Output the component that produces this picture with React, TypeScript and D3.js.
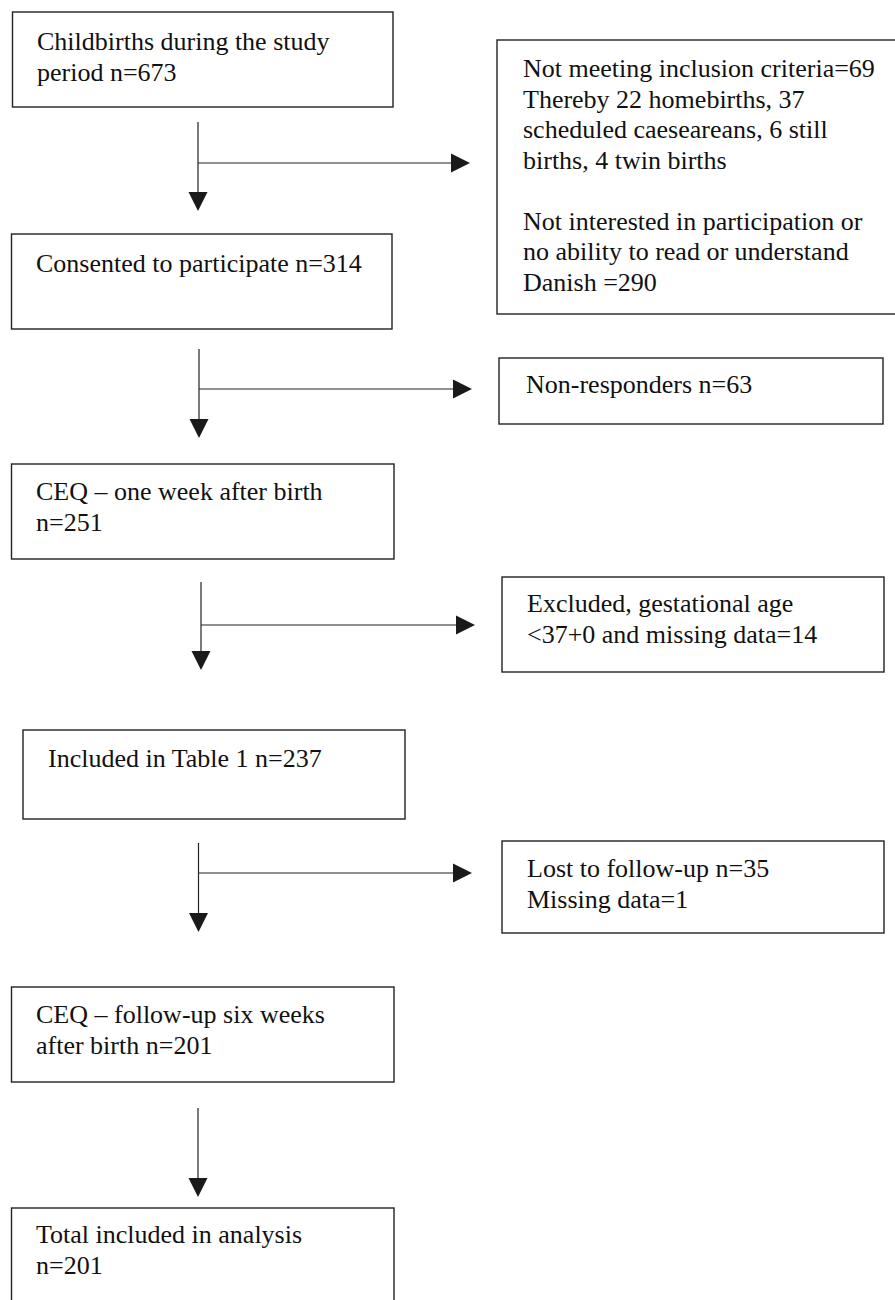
import { useEffect, useRef } from "react";
import * as d3 from "d3";

// box texts, one array entry per printed line
const mainLabels: string[][] = [
  ["Childbirths during the study", "period n=673"],
  ["Consented to participate n=314"],
  ["CEQ – one week after birth", "n=251"],
  ["Included in Table 1 n=237"],
  ["CEQ – follow-up six weeks", "after birth n=201"],
  ["Total included in analysis", "n=201"],
];

const sideLabels: string[][] = [
  [
    "Not meeting inclusion criteria=69",
    "Thereby 22 homebirths, 37",
    "scheduled caeseareans, 6 still",
    "births, 4 twin births",
    "",
    "Not interested in participation or",
    "no ability to read or understand",
    "Danish =290",
  ],
  ["Non-responders n=63"],
  ["Excluded, gestational age", "<37+0 and missing data=14"],
  ["Lost to follow-up n=35", "Missing data=1"],
];

// layout of the flow (page pixels)
const mainBoxes = [
  { x0: 12.5, x1: 393, y0: 12, y1: 107, tx: 37, ty: 50 },
  { x0: 11.5, x1: 392, y0: 234, y1: 329, tx: 36, ty: 272 },
  { x0: 11.5, x1: 394, y0: 464, y1: 559, tx: 36, ty: 500 },
  { x0: 23, x1: 405, y0: 730, y1: 819, tx: 48, ty: 767 },
  { x0: 11.5, x1: 394, y0: 987, y1: 1082, tx: 36, ty: 1023 },
  { x0: 11.5, x1: 394, y0: 1208, y1: 1320, tx: 36, ty: 1243 },
];

const sideBoxes = [
  { x0: 497, x1: 905, y0: 40, y1: 314, tx: 523, ty: 77 },
  { x0: 499, x1: 883, y0: 358, y1: 424, tx: 526, ty: 393 },
  { x0: 502, x1: 884, y0: 577, y1: 672, tx: 527, ty: 612 },
  { x0: 502, x1: 884, y0: 841, y1: 933, tx: 527, ty: 877 },
];

const arrows = [
  { x: 198, y0: 122, y1: 211, by: 163, bx1: 470 },
  { x: 199, y0: 349, y1: 438, by: 389, bx1: 472 },
  { x: 201, y0: 582, y1: 670, by: 625, bx1: 475 },
  { x: 198.5, y0: 843, y1: 932, by: 873, bx1: 472 },
  { x: 198, y0: 1108, y1: 1197, by: null, bx1: null },
];

const lineGap = 30.5;
const head = { len: 19, half: 9.5 };

export default function App() {
  const svgRef = useRef<SVGSVGElement>(null);

  useEffect(() => {
    const width = 895;
    const height = 1300;
    const svg = d3.select(svgRef.current).attr("width", width).attr("height", height);
    svg.selectAll("*").remove();

    svg.append("rect").attr("width", width).attr("height", height).attr("fill", "white");

    const line = d3.line();

    const drawBox = (b: any, lines: string[]) => {
      svg.append("rect")
        .attr("x", b.x0)
        .attr("y", b.y0)
        .attr("width", b.x1 - b.x0)
        .attr("height", b.y1 - b.y0)
        .attr("fill", "none")
        .attr("stroke", "#222")
        .attr("stroke-width", 1.4);

      const t = svg.append("text")
        .attr("font-family", "'Liberation Serif', 'Times New Roman', serif")
        .attr("font-size", "26px")
        .attr("fill", "#111");
      lines.forEach((s, i) => {
        t.append("tspan").attr("x", b.tx).attr("y", b.ty + i * lineGap).text(s);
      });
    };

    mainBoxes.forEach((b, i) => drawBox(b, mainLabels[i]));
    sideBoxes.forEach((b, i) => drawBox(b, sideLabels[i]));

    arrows.forEach((a) => {
      svg.append("path")
        .attr("d", line([[a.x, a.y0], [a.x, a.y1 - head.len]]))
        .attr("stroke", "#222")
        .attr("stroke-width", 1.2);
      svg.append("path")
        .attr("d", line([[a.x - head.half, a.y1 - head.len], [a.x + head.half, a.y1 - head.len], [a.x, a.y1]]) + "Z")
        .attr("fill", "#1a1a1a");
      if (a.by != null && a.bx1 != null) {
        svg.append("path")
          .attr("d", line([[a.x, a.by], [a.bx1 - head.len, a.by]]))
          .attr("stroke", "#222")
          .attr("stroke-width", 1.2);
        svg.append("path")
          .attr("d", line([[a.bx1 - head.len, a.by - head.half], [a.bx1 - head.len, a.by + head.half], [a.bx1, a.by]]) + "Z")
          .attr("fill", "#1a1a1a");
      }
    });
  }, []);

  return (
    <div style={{ position: "absolute", left: 0, top: 0 }}>
      <svg ref={svgRef} style={{ display: "block" }}></svg>
    </div>
  );
}
